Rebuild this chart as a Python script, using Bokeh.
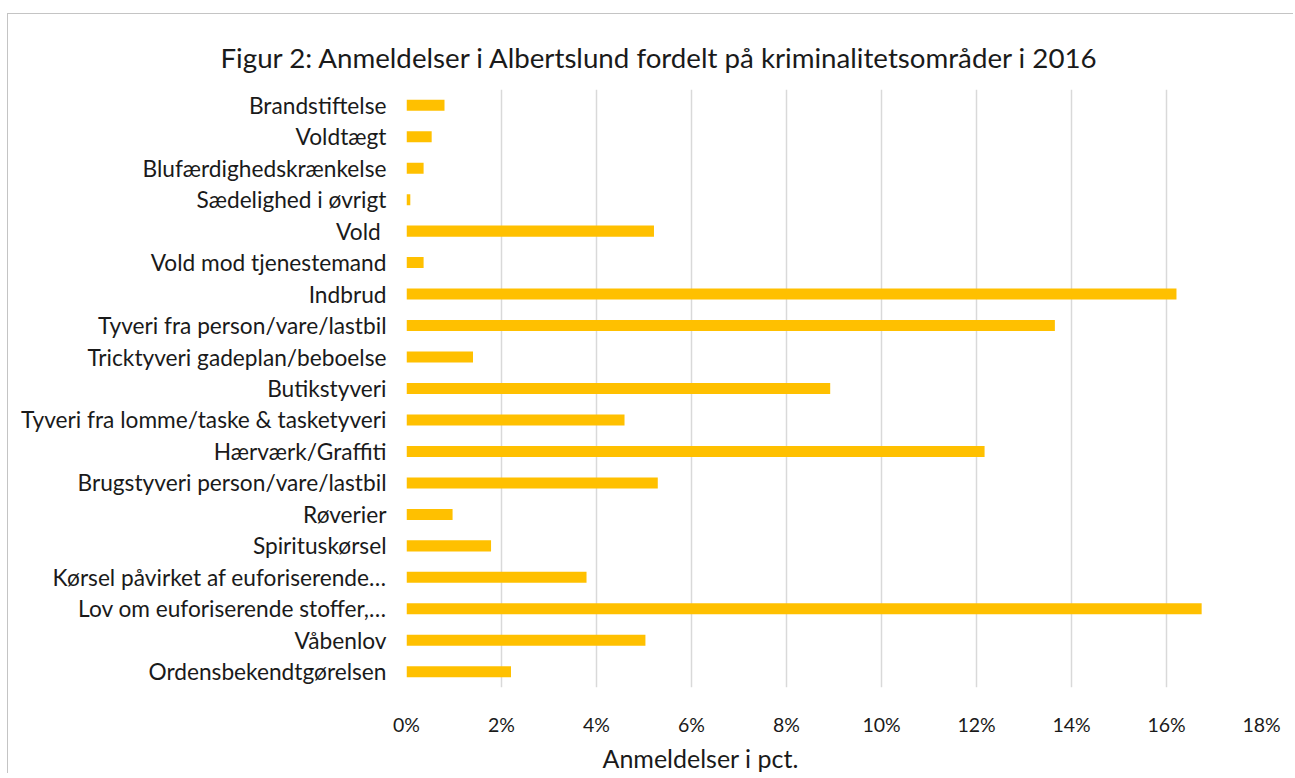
from bokeh.plotting import figure
from bokeh.models import Range1d, FixedTicker, Title, ColumnDataSource
from bokeh.embed import file_html
from bokeh.resources import INLINE

categories = [
    "Brandstiftelse",
    "Voldtægt",
    "Blufærdighedskrænkelse",
    "Sædelighed i øvrigt",
    "Vold ",
    "Vold mod tjenestemand",
    "Indbrud",
    "Tyveri fra person/vare/lastbil",
    "Tricktyveri gadeplan/beboelse",
    "Butikstyveri",
    "Tyveri fra lomme/taske & tasketyveri",
    "Hærværk/Graffiti",
    "Brugstyveri person/vare/lastbil",
    "Røverier",
    "Spirituskørsel",
    "Kørsel påvirket af euforiserende…",
    "Lov om euforiserende stoffer,…",
    "Våbenlov",
    "Ordensbekendtgørelsen",
]
values = [0.80, 0.53, 0.36, 0.08, 5.21, 0.36, 16.21, 13.65, 1.40, 8.92,
          4.59, 12.17, 5.29, 0.97, 1.78, 3.79, 16.74, 5.03, 2.20]
x_ticks = [0, 2, 4, 6, 8, 10, 12, 14, 16, 18]
x_tick_labels = ["0%", "2%", "4%", "6%", "8%", "10%", "12%", "14%", "16%", "18%"]
title_text = "Figur 2: Anmeldelser i Albertslund  fordelt på kriminalitetsområder i 2016"
x_title = "Anmeldelser i pct."

FONT = "Lato"

source = ColumnDataSource(dict(cat=categories, val=values))

p = figure(
    width=1286, height=760,
    y_range=list(reversed(categories)),
    x_range=Range1d(0, 18),
    output_backend="svg", toolbar_location=None,
    min_border_left=398, min_border_right=33,
    min_border_top=75, min_border_bottom=86,
)
p.outline_line_color = None
p.background_fill_color = "white"
p.border_fill_color = "white"
p.styles = {"margin-left": "7px", "margin-top": "13px",
            "border-top": "1.5px solid #c4c4c4", "border-left": "1.5px solid #c4c4c4"}

p.hbar(y="cat", right="val", left=0, height=0.35, source=source,
       fill_color="#FFC000", line_color=None)

# x axis
p.xaxis.ticker = FixedTicker(ticks=x_ticks)
p.xaxis.major_label_overrides = {t: l for t, l in zip(x_ticks, x_tick_labels)}
p.xaxis.axis_line_color = None
p.xaxis.major_tick_line_color = None
p.xaxis.minor_tick_line_color = None
p.xaxis.major_tick_out = 0
p.xaxis.major_label_standoff = 25
p.xaxis.major_label_text_font = FONT
p.xaxis.major_label_text_font_size = "19.5px"
p.xaxis.major_label_text_color = "#1a1a1a"

# y axis
p.yaxis.axis_line_color = None
p.yaxis.major_tick_line_color = None
p.yaxis.minor_tick_line_color = None
p.yaxis.major_tick_out = 0
p.yaxis.major_label_standoff = 20
p.yaxis.major_label_text_font = FONT
p.yaxis.major_label_text_font_size = "22.7px"
p.yaxis.major_label_text_color = "#1a1a1a"

# grid
p.xgrid.grid_line_color = "#d9d9d9"
p.xgrid.grid_line_width = 1.5
p.ygrid.grid_line_color = None

p.add_layout(Title(text=title_text, align="left", offset=-186, standoff=31,
                   text_font=FONT, text_font_size="27.7px", text_font_style="normal",
                   text_color="#1a1a1a"), "above")
p.add_layout(Title(text=x_title, align="left", offset=196, standoff=4,
                   text_font=FONT, text_font_size="25px", text_font_style="normal",
                   text_color="#1a1a1a"), "below")

open("out.html", "w").write(file_html(p, INLINE))
